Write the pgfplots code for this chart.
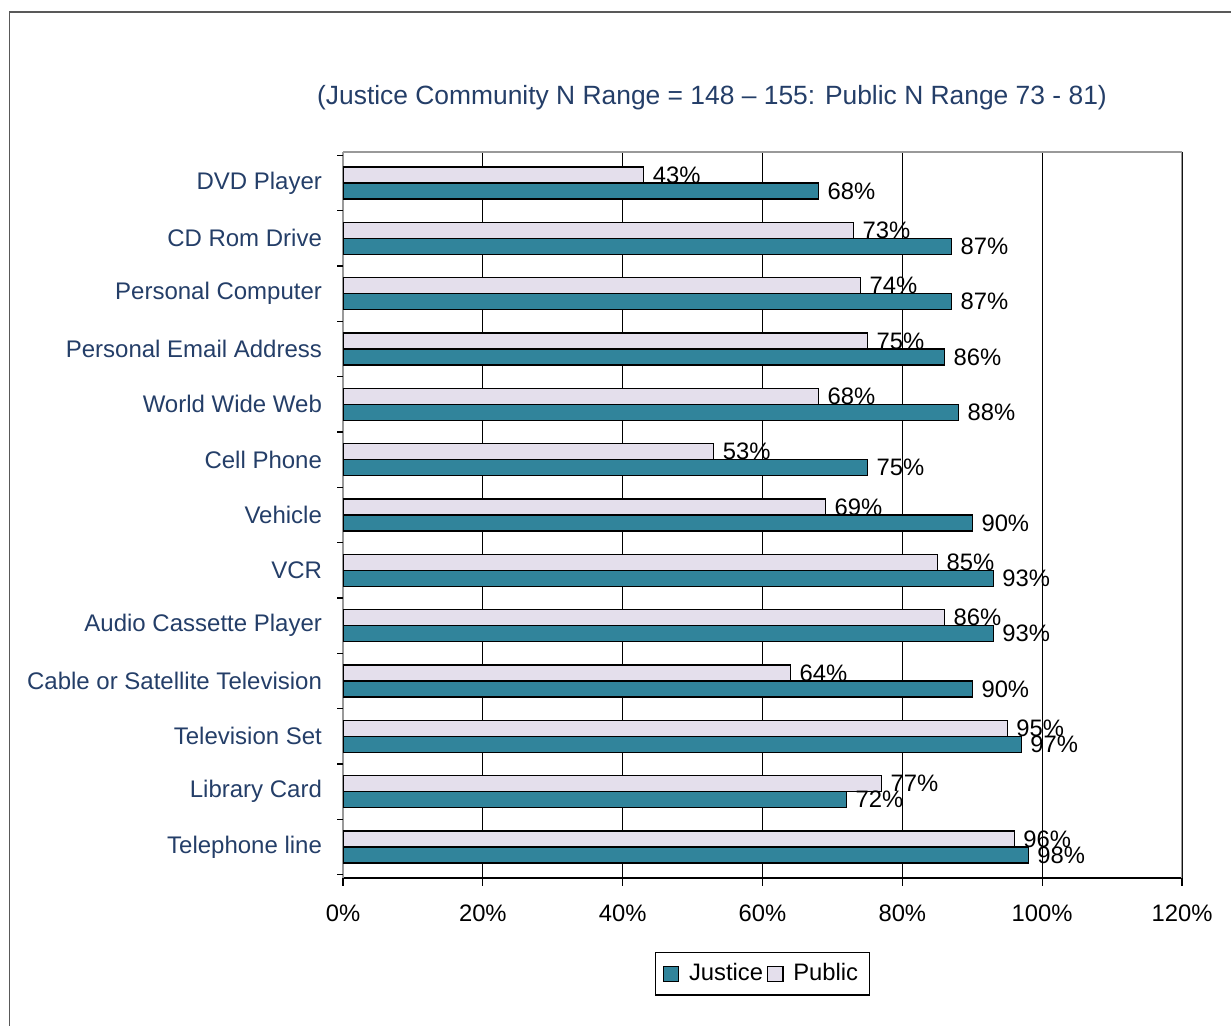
\documentclass[border=0pt]{standalone}
\usepackage{fontspec}
\setmainfont{Liberation Sans}
\usepackage{pgfplots}
\pgfplotsset{compat=1.18}
\definecolor{justice}{RGB}{49,132,155}
\definecolor{public}{RGB}{228,223,236}
\definecolor{navy}{RGB}{36,62,104}
\begin{document}
\begin{tikzpicture}
\begin{axis}[
  at={(171.5pt,74pt)}, anchor=south west,
  scale only axis, width=419.5pt, height=363pt,
  xbar, xmin=0, xmax=120, ymin=-0.56, ymax=12.56,
  bar width=8pt,
  /pgf/number format/assume math mode=true,
  xtick={0,20,...,120},
  xticklabel={\pgfmathprintnumber{\tick}\%},
  xticklabel style={font=\fontsize{11.9}{13}\selectfont, text=black, yshift=-6pt},
  x tick style={black, line width=0.6pt},
  tick align=outside,
  xtick pos=bottom, ytick pos=left,
  major tick length=4pt,
  xmajorgrids,
  grid style={black, line width=0.6pt},
  ytick={0,...,12},
  y tick style={draw=none},
  yticklabels={Telephone line, Library Card, Television Set, Cable or Satellite Television, Audio Cassette Player, VCR, Vehicle, Cell Phone, World Wide Web, Personal Email Address, Personal Computer, CD Rom Drive, DVD Player},
  yticklabel style={font=\fontsize{12}{14}\selectfont, text=navy, xshift=-3pt},
  extra y ticks={-0.5,0.5,...,12.5},
  extra y tick labels={},
  extra y tick style={y tick style={draw=black, line width=0.6pt}, major tick length=3pt, tick align=outside, grid=none, ytick pos=left},
  axis x line*=bottom, axis y line*=left,
  x axis line style={black, line width=0.8pt, -},
  y axis line style={black!40, line width=1pt, -},
  nodes near coords={\pgfmathprintnumber{\pgfplotspointmeta}\%},
  nodes near coords style={font=\fontsize{11.9}{13}\selectfont, text=black, anchor=west, xshift=1pt},
  legend style={at={(0.5,-0.132)}, anchor=center, legend columns=2, draw=black, line width=0.6pt, font=\fontsize{11.9}{13}\selectfont, inner sep=3.5pt, /tikz/every even column/.append style={column sep=0pt}},
  legend image code/.code={\draw[#1, line width=0.6pt] (0pt,-3.8pt) rectangle (7.6pt,3.8pt); \path (10.5pt,0pt);},
]
\draw[black!40, line width=0.8pt] (rel axis cs:0,1) -- (rel axis cs:1,1) -- (rel axis cs:1,0);
\addplot[draw=black, fill=justice, line width=0.6pt, bar shift=-4pt] coordinates {
(98,0) (72,1) (97,2) (90,3) (93,4) (93,5) (90,6) (75,7) (88,8) (86,9) (87,10) (87,11) (68,12)};
\addlegendentry{Justice}
\addplot[draw=black, fill=public, line width=0.6pt, bar shift=4pt] coordinates {
(96,0) (77,1) (95,2) (64,3) (86,4) (85,5) (69,6) (53,7) (68,8) (75,9) (74,10) (73,11) (43,12)};
\addlegendentry{Public}
\end{axis}
\draw[black!65, line width=0.8pt] (4.7pt,0pt) -- (4.7pt,507pt) -- (615.5pt,507pt);
\node[text=navy, font=\fontsize{13.2}{15}\selectfont] at (356pt,464pt) {(Justice Community N Range = 148 -- 155: Public N Range 73 - 81)};
\pgfresetboundingbox
\path[use as bounding box] (0pt,0pt) rectangle (615.5pt,513pt);
\end{tikzpicture}
\end{document}
